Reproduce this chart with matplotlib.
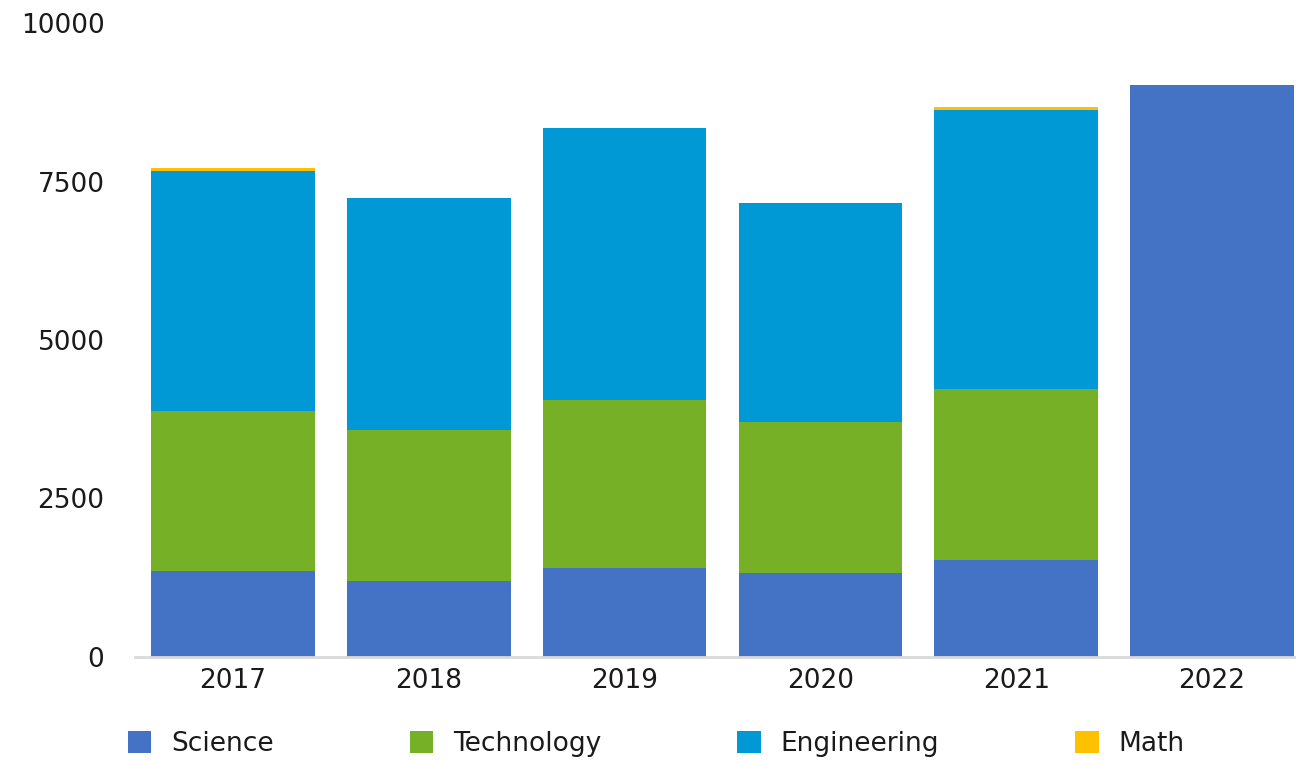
import matplotlib
matplotlib.use("Agg")
import matplotlib.pyplot as plt
import numpy as np

years = ["2017", "2018", "2019", "2020", "2021", "2022"]
science = [1355, 1200, 1405, 1325, 1530, 9020]
technology = [2525, 2380, 2650, 2380, 2695, 0]
engineering = [3785, 3660, 4290, 3455, 4400, 0]
math_vals = [48, 0, 0, 0, 48, 0]
series_names = ["Science", "Technology", "Engineering", "Math"]
colors = ["#4472C4", "#75B026", "#0099D6", "#FFC000"]
yticks = [0, 2500, 5000, 7500, 10000]

plt.rcParams['font.family'] = ['DejaVu Sans']
fig = plt.figure(figsize=(12.96, 7.6), dpi=100)
W, H = 1296, 760
ax = fig.add_axes([135 / W, 103 / H, (1310 - 135) / W, 634 / H])

x = np.arange(len(years))
bottom = np.zeros(len(years))
handles = []
for name, vals, c in zip(series_names, [science, technology, engineering, math_vals], colors):
    b = ax.bar(x, vals, bottom=bottom, width=0.835, color=c, label=name, linewidth=0)
    handles.append(b)
    bottom += np.array(vals)

ax.set_xlim(-0.5, len(years) - 0.5)
ax.set_ylim(0, 10000)
ax.set_yticks(yticks)
ax.set_yticklabels([str(t) for t in yticks])
ax.set_xticks(x)
ax.set_xticklabels(years)
ax.tick_params(axis='both', length=0, labelsize=19, colors='#1a1a1a')
ax.tick_params(axis='y', pad=22)
ax.tick_params(axis='x', pad=8)
for s in ['top', 'right', 'left']:
    ax.spines[s].set_visible(False)
ax.spines['bottom'].set_color('#d9d9d9')
ax.spines['bottom'].set_linewidth(2)

leg = fig.legend(handles=handles, labels=series_names, loc='center left',
                 bbox_to_anchor=(117 / W, 1 - 744 / H), ncol=4, frameon=False,
                 fontsize=19, handlelength=0.9, handleheight=0.9,
                 handletextpad=0.75, columnspacing=5.15, borderaxespad=0)
for t in leg.get_texts():
    t.set_color('#1a1a1a')

fig.savefig("out.png", dpi=100)
